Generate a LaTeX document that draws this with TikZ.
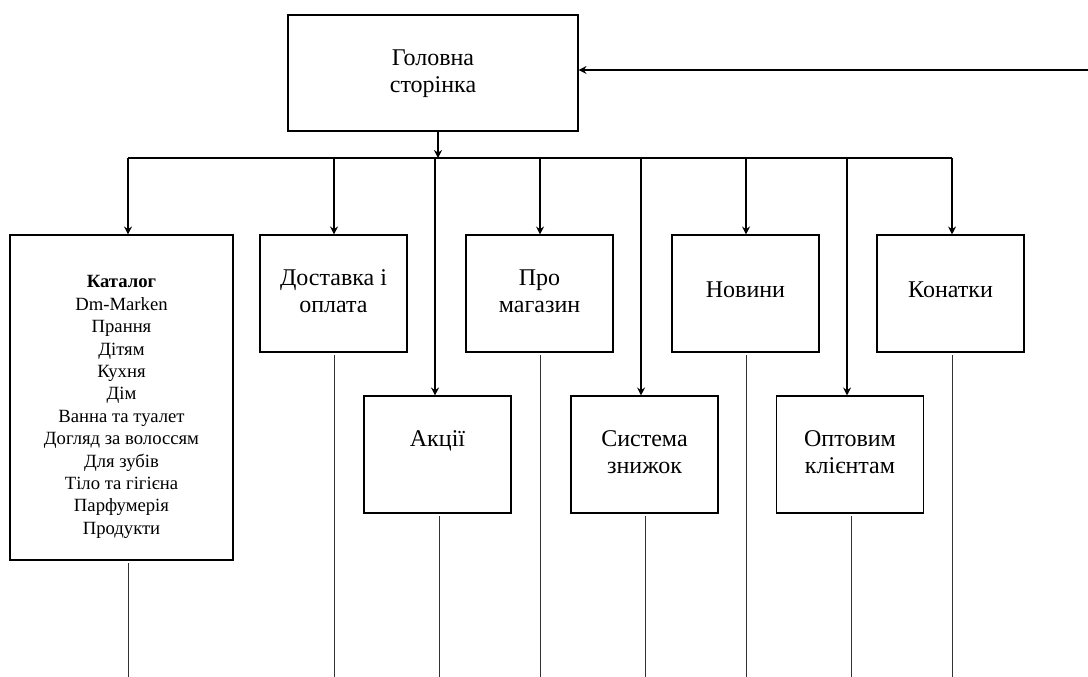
\documentclass[tikz,border=0pt]{standalone}
\usepackage{fontspec}
\setmainfont{Liberation Serif}
\usetikzlibrary{arrows.meta, calc}

\tikzset{
  page/.style={draw, line width=0.8pt, minimum width=110.25pt, minimum height=87.75pt, inner sep=0pt},
  caption/.style={anchor=north, align=center, inner sep=0pt, font=\fontsize{18}{20}\selectfont},
  link/.style={line width=0.8pt, -{Stealth[length=6pt, width=6pt, inset=2pt]}},
  tail/.style={line width=0.6pt, black!80, shorten <=2pt},
}

\begin{document}
\begin{tikzpicture}[x=0.75pt, y=-0.75pt]
  \useasboundingbox (0,0) rectangle (1088,677);

  % main page
  \node[page, minimum width=217.5pt, minimum height=87pt] (home) at (433,73) {};
  \node[caption] (home-t) at ($(home.north)+(0,35)$) {Головна\\сторінка};

  \coordinate (ret) at (1088,70); % right end of the way back
  \coordinate (hub) at (438,158); % bus point under the main page
  \draw[link] (ret) -- (home.east |- ret);
  \draw[link] (home.south -| hub) -- (hub);

  % catalog column
  \node[page, minimum width=167.25pt, minimum height=243.75pt] (cat) at (121.5,397.5) {};
  \node[caption, font=\fontsize{14}{16.8}\selectfont] (cat-t) at ($(cat.north)+(0,41)$)
    {\textbf{Каталог}\\Dm-Marken\\Прання\\Дітям\\Кухня\\Дім\\Ванна та туалет\\Догляд за волоссям\\Для зубів\\Тіло та гігієна\\Парфумерія\\Продукти};

  % upper row
  \node[page] (dost) at (333.5,293.5) {};
  \node[page] (pro) at (539.5,293.5) {};
  \node[page] (nov) at (745.5,293.5) {};
  \node[page] (kont) at (950.5,293.5) {};
  % lower row
  \node[page] (akc) at (437.5,454.5) {};
  \node[page] (sys) at (644.5,454.5) {};
  \node[page] (opt) at (850,454.5) {};

  \node[caption] (dost-t) at ($(dost.north)+(0,35)$) {Доставка і\\оплата};
  \node[caption] (pro-t) at ($(pro.north)+(0,35)$) {Про\\магазин};
  \node[caption] (nov-t) at ($(nov.north)+(0,47)$) {Новини};
  \node[caption] (kont-t) at ($(kont.north)+(0,47)$) {Конатки};
  \node[caption] (akc-t) at ($(akc.north)+(0,35)$) {Акції};
  \node[caption] (sys-t) at ($(sys.north)+(0,35)$) {Система\\знижок};
  \node[caption] (opt-t) at ($(opt.north)+(0,35)$) {Оптовим\\клієнтам};

  % bus, drops and tails
  \foreach \n/\ax/\lx in {cat/128/128, dost/334/334, akc/435/439, pro/540/540,
                          sys/641/645, nov/746/746, opt/847/851, kont/952/952} {
    \coordinate (b-\n) at (\ax,158);
    \coordinate (t-\n) at (\lx,677);
    \draw[link] (b-\n) -- (b-\n |- \n.north);
    \draw[tail] (t-\n |- \n.south) -- (t-\n);
  }
  \draw[line width=0.8pt] (b-cat) -- (b-kont);
\end{tikzpicture}
\end{document}
